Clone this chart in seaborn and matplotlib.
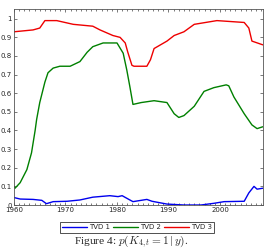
import numpy as np
import pandas as pd
import matplotlib
matplotlib.use('Agg')
import matplotlib.pyplot as plt
import seaborn as sns
from matplotlib.ticker import MultipleLocator

# --- Values ---
tvd1_year = [1960.0, 1961.2, 1963.7, 1965.4, 1966.3, 1967.6, 1970.3, 1972.8, 1975.3,
             1978.6, 1980.2, 1981.0, 1982.5, 1983.1, 1985.8, 1986.8, 1989.7, 1993.0,
             1996.3, 1998.8, 2000.8, 2004.7, 2005.6, 2006.6, 2007.2, 2008.3]
tvd1_prob = [0.040, 0.032, 0.030, 0.025, 0.007, 0.018, 0.020, 0.027, 0.042,
             0.050, 0.045, 0.050, 0.027, 0.018, 0.030, 0.020, 0.005, 0.000,
             0.000, 0.009, 0.018, 0.020, 0.065, 0.100, 0.085, 0.090]

tvd2_year = [1960.0, 1960.2, 1961.2, 1962.5, 1963.4, 1964.1, 1964.4, 1965.0, 1966.0,
             1966.6, 1967.6, 1968.9, 1970.9, 1972.8, 1974.2, 1975.3, 1977.3, 1980.0,
             1981.2, 1981.9, 1982.5, 1983.1, 1984.7, 1987.2, 1989.7, 1991.1, 1992.0,
             1993.0, 1995.0, 1996.9, 1998.8, 2001.2, 2001.7, 2002.7, 2004.7, 2006.2,
             2007.2, 2008.3]
tvd2_prob = [0.10, 0.09, 0.12, 0.19, 0.28, 0.40, 0.46, 0.55, 0.66,
             0.71, 0.735, 0.745, 0.745, 0.77, 0.82, 0.85, 0.87, 0.87,
             0.815, 0.725, 0.635, 0.54, 0.55, 0.56, 0.55, 0.49, 0.47,
             0.48, 0.53, 0.61, 0.63, 0.645, 0.64, 0.58, 0.49, 0.43,
             0.41, 0.42]

tvd3_year = [1960.0, 1963.7, 1965.0, 1966.0, 1968.3, 1971.5, 1975.3, 1976.7, 1979.2,
             1980.6, 1981.6, 1982.1, 1982.9, 1983.3, 1985.8, 1986.5, 1987.2, 1989.7,
             1991.1, 1993.0, 1995.0, 1999.4, 2004.7, 2005.6, 2006.2, 2008.3]
tvd3_prob = [0.93, 0.94, 0.95, 0.99, 0.99, 0.97, 0.96, 0.94, 0.91,
             0.90, 0.87, 0.82, 0.75, 0.745, 0.745, 0.78, 0.84, 0.88,
             0.91, 0.93, 0.97, 0.99, 0.98, 0.95, 0.88, 0.86]

series_names = ['TVD 1', 'TVD 2', 'TVD 3']
series_colors = ['#0000ee', '#008000', '#ee0000']

df = pd.concat([
    pd.DataFrame({'year': tvd1_year, 'prob': tvd1_prob, 'series': 'TVD 1'}),
    pd.DataFrame({'year': tvd2_year, 'prob': tvd2_prob, 'series': 'TVD 2'}),
    pd.DataFrame({'year': tvd3_year, 'prob': tvd3_prob, 'series': 'TVD 3'}),
], ignore_index=True)

sns.set_style('ticks')
plt.rcParams['font.family'] = ['DejaVu Sans']
plt.rcParams['mathtext.fontset'] = 'cm'

fig = plt.figure(figsize=(2.68, 2.52), dpi=100)
ax = fig.add_axes([14 / 268, (252 - 205) / 252, (263 - 14) / 268, (205 - 8.5) / 252])

sns.lineplot(data=df, x='year', y='prob', hue='series', hue_order=series_names,
             palette=series_colors, estimator=None, sort=False, linewidth=1.0, ax=ax)

ax.set_xlim(1960, 2008.35)
ax.set_ylim(0, 1.055)
ax.set_xlabel('')
ax.set_ylabel('')
ax.xaxis.set_major_locator(MultipleLocator(10))
ax.xaxis.set_minor_locator(MultipleLocator(1))
ax.set_yticks(np.arange(0, 1.01, 0.1))
ax.set_yticklabels(['0', '0.1', '0.2', '0.3', '0.4', '0.5', '0.6', '0.7', '0.8', '0.9', '1'])
ax.tick_params(which='both', direction='in', top=True, right=True, labelsize=5, pad=1.5,
               width=0.5, color='#444444')
ax.tick_params(which='major', length=2.5)
ax.tick_params(which='minor', length=1.2)
for s in ax.spines.values():
    s.set_linewidth(0.6)
    s.set_color('#555555')

leg = ax.legend(loc='upper center', bbox_to_anchor=(0.494, -0.068), ncol=3,
                fontsize=5.0, handlelength=3.6, handletextpad=0.3, columnspacing=0.4,
                borderpad=0.35, fancybox=False, frameon=True)
leg.get_frame().set_edgecolor('black')
leg.get_frame().set_linewidth(0.6)
for line in leg.get_lines():
    line.set_linewidth(1.0)

fig.text(0.49, 0.04, r'Figure 4: $p(K_{4,t} = 1\,|\,y)$.', ha='center', va='center',
         fontsize=8.2, family='Liberation Serif', math_fontfamily='cm')

fig.savefig('out.png', dpi=100)
